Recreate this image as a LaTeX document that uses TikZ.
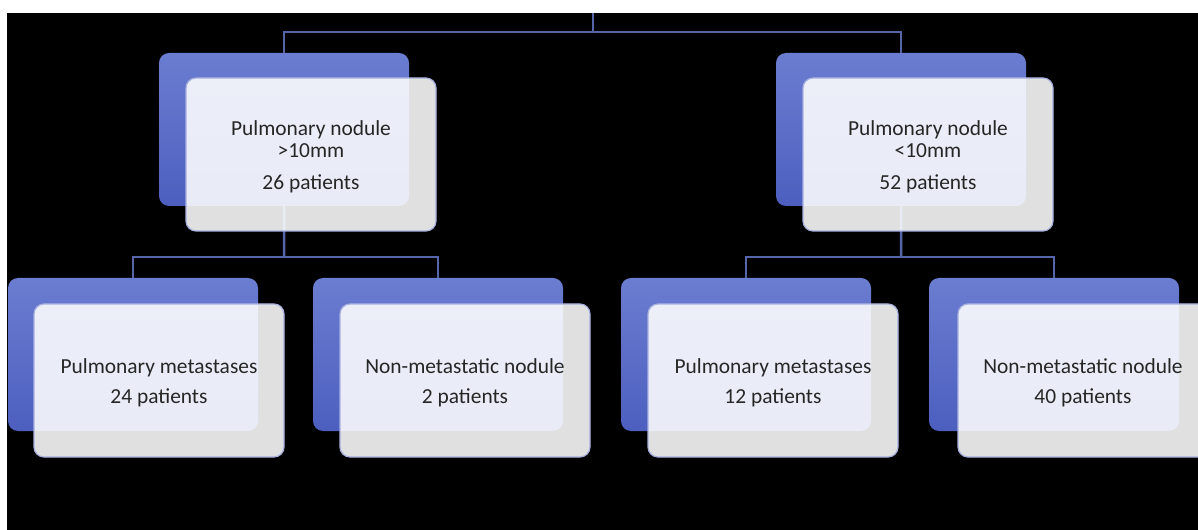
\documentclass[tikz,border=0pt]{standalone}
\usepackage{fontspec}
\setmainfont{Carlito}
\definecolor{bluetop}{HTML}{6B7DD0}
\definecolor{bluebot}{HTML}{4C5FBF}
\definecolor{linkcol}{HTML}{5565A8}
\definecolor{edgecol}{HTML}{A8B0E0}
\definecolor{textgray}{HTML}{262626}
\tikzset{
  backbox/.style={rounded corners=10bp, top color=bluetop, bottom color=bluebot,
    draw=none, minimum width=250bp, minimum height=153bp, inner sep=0pt,
    outer sep=0pt, anchor=north west},
  frontbox/.style={rounded corners=10bp, fill=white, fill opacity=0.88,
    draw=edgecol, draw opacity=1, line width=1.2bp,
    minimum width=250bp, minimum height=153bp, inner sep=0pt, outer sep=0pt,
    anchor=north west},
  cardtext/.style={align=center, text=textgray, inner sep=0pt,
    font=\fontsize{21.5}{22}\selectfont},
  link/.style={draw=linkcol, line width=2.5bp}
}
\begin{document}
\begin{tikzpicture}[x=1bp, y=-1bp]
  % page and dark panel
  \path[use as bounding box, fill=white] (0,0) rectangle (1198,530);
  \fill[black] (7,13) rectangle (1198,530);

  % back (blue) cards
  \node[backbox] (Lb) at (159,53) {};
  \node[backbox] (Rb) at (776,53) {};
  \node[backbox] (b1) at (8,278) {};
  \node[backbox] (b2) at (313,278) {};
  \node[backbox] (b3) at (621,278) {};
  \node[backbox] (b4) at (929,278) {};

  % connectors
  \coordinate (root) at (593,13);
  \coordinate (rootj) at (593,32);
  \coordinate (lj) at (284,257);
  \coordinate (rj) at (901,257);
  \draw[link] (root) -- (rootj);
  \draw[link] (Lb.north) |- (rootj) -| (Rb.north);
  \draw[link] (Lb.south) -- (lj);
  \draw[link] (b1.north) |- (lj) -| (b2.north);
  \draw[link] (Rb.south) -- (rj);
  \draw[link] (b3.north) |- (rj) -| (b4.north);

  % front (light) cards
  \node[frontbox] (L) at (186,78) {};
  \node[frontbox] (R) at (803,78) {};
  \node[frontbox] (f1) at (34,304) {};
  \node[frontbox] (f2) at (340,304) {};
  \node[frontbox] (f3) at (648,304) {};
  \node[frontbox] (f4) at (958,304) {};

  % card texts
  \node[cardtext] (Lt) at ([yshift=-2bp]L.center) {Pulmonary nodule\\ >10mm\\[10bp] 26 patients};
  \node[cardtext] (Rt) at ([yshift=-2bp]R.center) {Pulmonary nodule\\ <10mm\\[10bp] 52 patients};
  \node[cardtext] (t1) at ([yshift=-2bp]f1.center) {Pulmonary metastases\\[8bp] 24 patients};
  \node[cardtext] (t2) at ([yshift=-2bp]f2.center) {Non-metastatic nodule\\[8bp] 2 patients};
  \node[cardtext] (t3) at ([yshift=-2bp]f3.center) {Pulmonary metastases\\[8bp] 12 patients};
  \node[cardtext] (t4) at ([yshift=-2bp]f4.center) {Non-metastatic nodule\\[8bp] 40 patients};
\end{tikzpicture}
\end{document}
